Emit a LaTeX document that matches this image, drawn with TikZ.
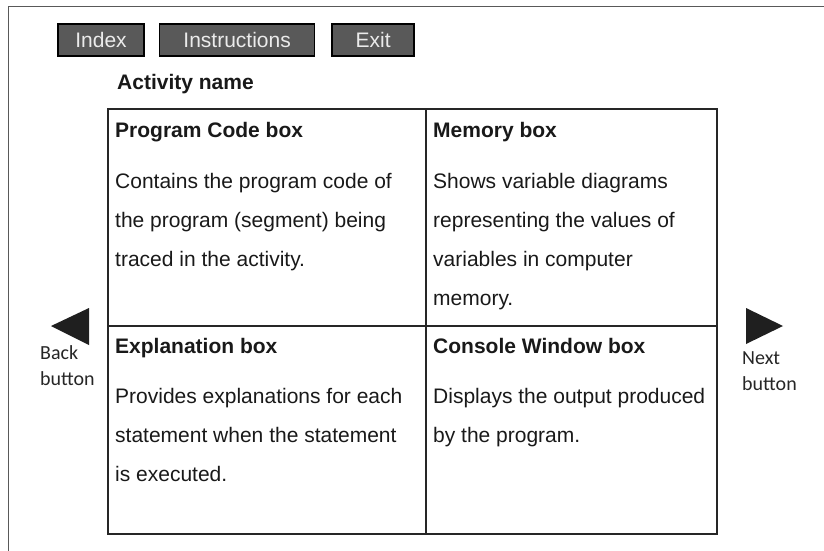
\documentclass[tikz,border=0pt]{standalone}
\usepackage{fontspec}
\setmainfont{Liberation Sans}
\newfontfamily\navfont{Carlito}
\usetikzlibrary{positioning}
\colorlet{btnFill}{black!65}
\colorlet{btnText}{black!8}
\colorlet{gridColor}{black!85}
\colorlet{frameColor}{black!65}
\tikzset{
  menubutton/.style={draw=black, line width=1.6pt, fill=btnFill, text=btnText,
    minimum height=32pt, inner sep=0pt, font=\fontsize{21}{25}\selectfont},
  boxtitle/.style={anchor=base west, inner sep=0pt, text=black!90,
    font=\bfseries\fontsize{21}{25}\selectfont},
  boxtext/.style={anchor=base west, inner sep=0pt, align=left, text=black!90,
    font=\fontsize{21}{39}\selectfont},
  navlabel/.style={anchor=base west, inner sep=0pt, align=left, text=black!85,
    font=\navfont\fontsize{20}{26}\selectfont},
  navarrow/.style={fill=black!88}
}

\begin{document}
\begin{tikzpicture}[x=1pt,y=-1pt]
				\useasboundingbox (0,0) rectangle (824,551);
				% outer frame
				\draw[frameColor, line width=1pt] (8,551) -- (8,7) -- (824,7);
				% menu buttons
				\node[menubutton, minimum width=86pt] (index) at (101,40) {Index};
				\node[menubutton, minimum width=155pt, right=14pt of index] (instr) {Instructions};
				\node[menubutton, minimum width=82pt, right=16pt of instr] (exit) {Exit};
				\node[boxtitle] (activity) at (117,89) {Activity name};
				% grid of boxes
				\coordinate (NW) at (108,109);
				\coordinate (SE) at (717,534);
				\coordinate (Nmid) at (426,109);
				\coordinate (Smid) at (426,534);
				\coordinate (Wmid) at (108,326);
				\coordinate (Emid) at (717,326);
				\draw[gridColor, line width=1.6pt] (NW) rectangle (SE);
				\draw[gridColor, line width=1.6pt] (Nmid) -- (Smid);
				\draw[gridColor, line width=1.6pt] (Wmid) -- (Emid);
				% box texts (base = last line)
				\node[boxtitle] (codeT) at (115,137) {Program Code box};
				\node[boxtext] (codeB) at (115,266) {Contains the program code of\\the program (segment) being\\traced in the activity.};
				\node[boxtitle] (memT) at (433,137) {Memory box};
				\node[boxtext] (memB) at (433,305) {Shows variable diagrams\\representing the values of\\variables in computer\\memory.};
				\node[boxtitle] (explT) at (115,353) {Explanation box};
				\node[boxtext] (explB) at (115,481) {Provides explanations for each\\statement when the statement\\is executed.};
				\node[boxtitle] (consT) at (433,353) {Console Window box};
				\node[boxtext] (consB) at (433,442) {Displays the output produced\\by the program.};
				% navigation
				\fill[navarrow] (51,326) -- (89,308) -- (89,345) -- cycle;
				\node[navlabel] (back) at (40,385) {Back\\button};
				\fill[navarrow] (746,308) -- (783,326) -- (746,344) -- cycle;
				\node[navlabel] (next) at (742,390) {Next\\button};
				
\end{tikzpicture}
\end{document}
